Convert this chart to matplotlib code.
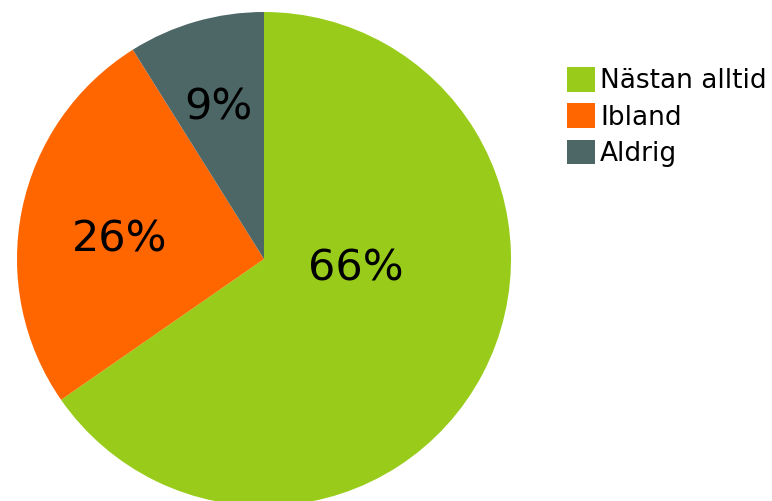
import matplotlib.pyplot as plt

labels = ["Nästan alltid", "Ibland", "Aldrig"]
values = [66, 26, 9]
colors = ["#99CC1A", "#FF6600", "#4D6666"]

fig = plt.figure(figsize=(7.72, 5.01), dpi=100)
# pie centred at (264, 259) px, radius 247 px
ax = fig.add_axes([17 / 772, (501 - 259 - 247) / 501, 494 / 772, 494 / 501])

wedges, texts, autotexts = ax.pie(
    values, colors=colors, startangle=90, counterclock=False,
    autopct=lambda p: "", pctdistance=0.62, radius=1.0,
    wedgeprops=dict(linewidth=0))

# value labels, placed by hand inside each slice
label_pos = [(0.37, -0.04), (-0.585, 0.08), (-0.186, 0.612)]
for t, v, pos in zip(autotexts, values, label_pos):
    t.set_text(f"{v}%")
    t.set_fontsize(31)
    t.set_color("black")
    t.set_position(pos)

ax.set_xlim(-1, 1)
ax.set_ylim(-1, 1)
ax.set_aspect("equal")

leg = fig.legend(wedges, labels, loc="upper left",
                 bbox_to_anchor=(567 / 772, 1 - 67 / 501),
                 frameon=False, fontsize=19, handlelength=1.06,
                 handleheight=1.06, handletextpad=0.2, labelspacing=0.34,
                 borderpad=0, borderaxespad=0)

fig.savefig("out.png", dpi=100)
